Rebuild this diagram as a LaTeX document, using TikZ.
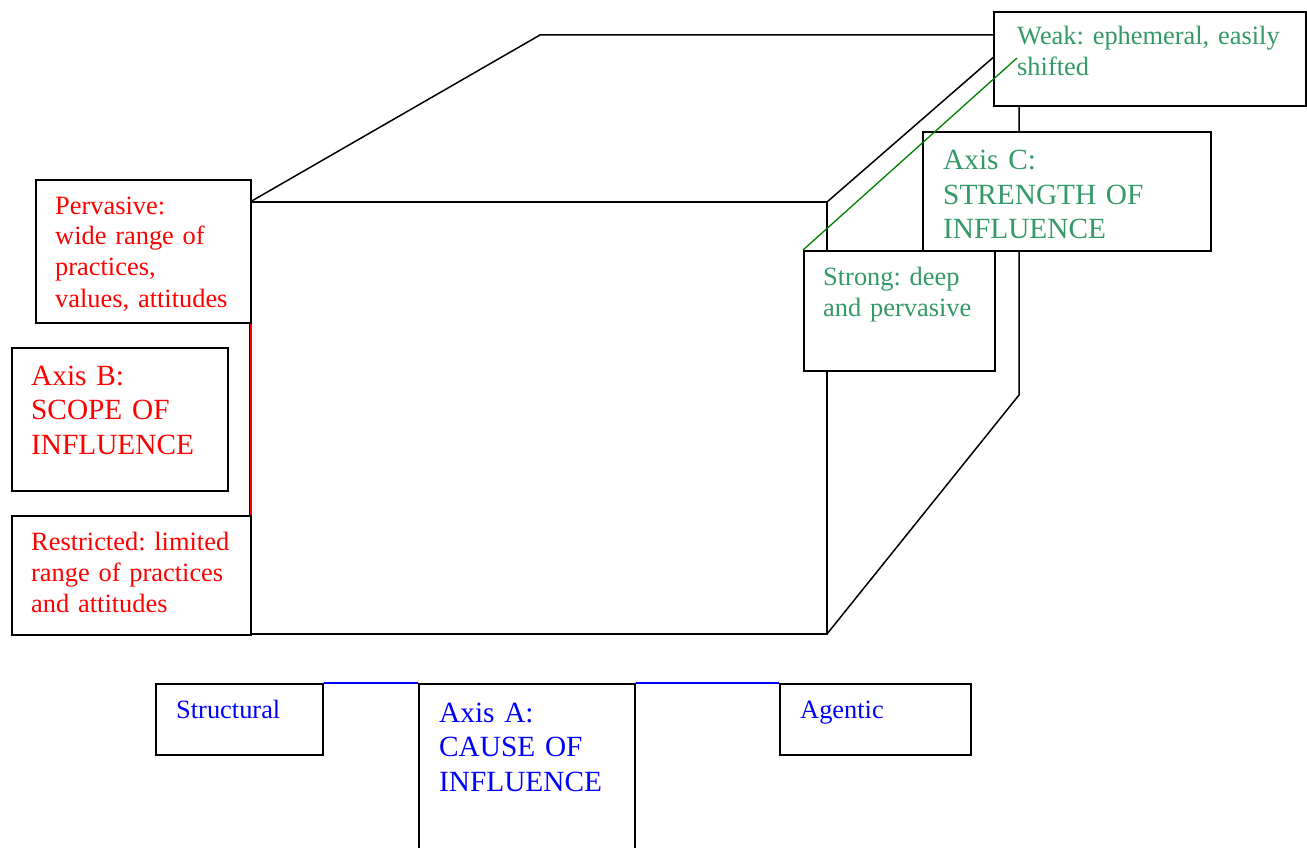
\documentclass[tikz,border=0pt]{standalone}
\usepackage{fontspec}
\setmainfont{Liberation Serif}
\frenchspacing
\definecolor{sgreen}{RGB}{51,153,102}
\definecolor{lgreen}{RGB}{0,128,0}
\begin{document}
\begin{tikzpicture}[x=1pt,y=-1pt,
  edge/.style={line width=1.5pt,black},
  box/.style={draw=black,line width=1.6pt,fill=white,inner sep=0pt,anchor=north west},
  small/.style={inner sep=0pt,anchor=base west,text width=320pt,align=left,font=\frenchspacing\fontsize{26.4pt}{31pt}\selectfont},
  large/.style={inner sep=0pt,anchor=base west,text width=320pt,align=left,font=\frenchspacing\fontsize{29.3pt}{34.5pt}\selectfont}]
\useasboundingbox (0,0) rectangle (1307,848);
% cube vertices
\coordinate (ftl) at (250,202);
\coordinate (ftr) at (827,202);
\coordinate (fbr) at (827,634);
\coordinate (fbl) at (250,634);
\coordinate (btl) at (540,35);
\coordinate (btr) at (1019,35);
\coordinate (bbr) at (1019,395);
\draw[edge] (ftl) -- (ftr) -- (fbr) -- (fbl) -- cycle;
\draw[edge] (ftl) -- (btl) -- (btr) -- (bbr) -- (fbr);
\draw[edge] (ftr) -- (btr);
% axis lines behind boxes
\coordinate (rtop) at (251,225);
\coordinate (rbot) at (251,587);
\draw[red,line width=1.5pt] (rtop) -- (rbot);
% boxes
\node[box,minimum width=312pt,minimum height=94pt] (weak) at (993,11) {};
\node[box,minimum width=288pt,minimum height=119pt] (axisC) at (922,131) {};
\node[box,minimum width=191pt,minimum height=120pt] (strong) at (803,250) {};
\node[box,minimum width=215pt,minimum height=143pt] (perv) at (35,179) {};
\node[box,minimum width=216pt,minimum height=143pt] (axisB) at (11,347) {};
\node[box,minimum width=239pt,minimum height=119pt] (restr) at (11,515) {};
\node[box,minimum width=167pt,minimum height=71pt] (struct) at (155,683) {};
\node[box,minimum width=216pt,minimum height=190pt] (axisA) at (418,683) {};
\node[box,minimum width=191pt,minimum height=71pt] (agent) at (779,683) {};
\draw[blue,line width=1.5pt] (struct.north east) -- (axisA.north west);
\draw[blue,line width=1.5pt] (axisA.north east) -- (agent.north west);
% green axis line on top
\coordinate (gend) at (1017,58);
\draw[lgreen,line width=1.3pt] (strong.north west) -- (gend);
% texts
\node[small,text=sgreen] (tweak) at (1017,45) {Weak: ephemeral, easily\\shifted};
\node[large,text=sgreen] (taxisC) at (943,170) {Axis C:\\STRENGTH OF\\INFLUENCE};
\node[small,text=sgreen] (tstrong) at (823,285) {Strong: deep\\and pervasive};
\node[small,text=red] (tperv) at (55,214) {Pervasive:\\wide range of\\practices,\\values, attitudes};
\node[large,text=red] (taxisB) at (31,385) {Axis B:\\SCOPE OF\\INFLUENCE};
\node[small,text=red] (trestr) at (31,550) {Restricted: limited\\range of practices\\and attitudes};
\node[small,text=blue] (tstruct) at (176,718) {Structural};
\node[large,text=blue] (taxisA) at (439,722) {Axis A:\\CAUSE OF\\INFLUENCE};
\node[small,text=blue] (tagent) at (800,718) {Agentic};
\end{tikzpicture}
\end{document}
